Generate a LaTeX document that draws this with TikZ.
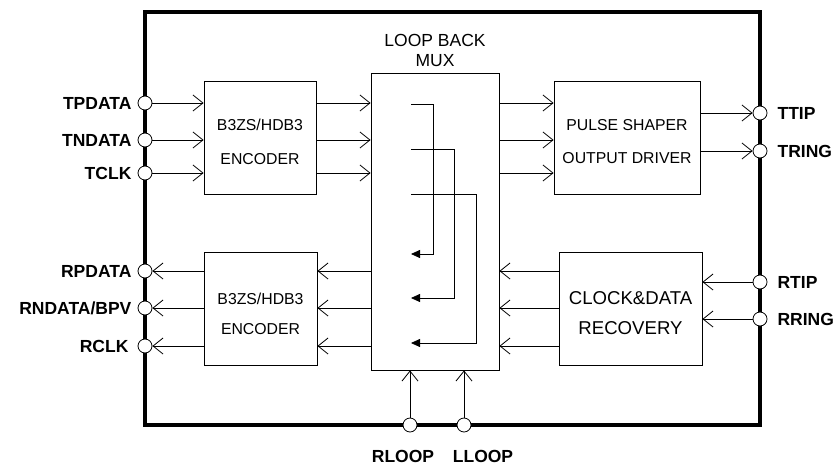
\documentclass[tikz,border=0pt]{standalone}
\usepackage{fontspec}
\setmainfont{Liberation Sans}
\usetikzlibrary{positioning,arrows.meta}

\begin{document}
\begin{tikzpicture}[x=1pt, y=-1pt,
  box/.style={draw, line width=0.8pt, align=center, inner sep=0pt, text depth=0pt},
  pin/.style={circle, draw, line width=0.8pt, fill=white, minimum size=14pt, inner sep=0pt},
  pinlbl/.style={font=\bfseries\fontsize{17.5}{20}\selectfont, inner sep=0pt},
  arr/.style={-{Straight Barb[length=10pt,width=16pt]}, line width=0.8pt},
  lpb/.style={-{Triangle[length=9pt,width=8pt]}, line width=0.8pt}
]
\useasboundingbox (0,0) rectangle (834,466);

% chip outline
\draw[line width=4pt] (145,12) rectangle (760,425);

% blocks
\node[box, minimum width=112pt, minimum height=113pt, font=\fontsize{15.8}{34}\selectfont, text height=54.5pt] (tenc) at (260,137.5) {B3ZS/HDB3\\ENCODER};
\node[box, minimum width=113pt, minimum height=113pt, font=\fontsize{15.8}{30}\selectfont, text height=52.3pt] (renc) at (260.5,308.5) {B3ZS/HDB3\\ENCODER};
\node[box, minimum width=128pt, minimum height=297pt] (mux) at (435,221.5) {};
\node[font=\fontsize{17.5}{20}\selectfont, align=center, inner sep=0pt, above=6pt of mux] (muxlbl) {LOOP BACK\\MUX};
\node[box, minimum width=146pt, minimum height=113pt, font=\fontsize{15.8}{33}\selectfont, text height=52.3pt] (pulse) at (627,137.5) {PULSE SHAPER\\OUTPUT DRIVER};
\node[box, minimum width=143pt, minimum height=113pt, font=\fontsize{18.6}{30}\selectfont, text height=52.3pt] (cdr) at (630.5,308.5) {CLOCK\&DATA\\RECOVERY};

% pins
\node[pin] (tp) at (145,103) {};
\node[pin] (tn) at (145,140) {};
\node[pin] (tc) at (145,173) {};
\node[pin] (rp) at (145,271) {};
\node[pin] (rn) at (145,308) {};
\node[pin] (rc) at (145,346) {};
\node[pin] (tt) at (760,113) {};
\node[pin] (tr) at (760,151) {};
\node[pin] (rt) at (760,282) {};
\node[pin] (rr) at (760,319) {};
\node[pin] (rl) at (410,425) {};
\node[pin] (ll) at (464,425) {};

\node[pinlbl, left=6pt of tp] (tplbl) {TPDATA};
\node[pinlbl, left=6pt of tn] (tnlbl) {TNDATA};
\node[pinlbl, left=6pt of tc] (tclbl) {TCLK};
\node[pinlbl, left=6pt of rp] (rplbl) {RPDATA};
\node[pinlbl, left=6pt of rn] (rnlbl) {RNDATA/BPV};
\node[pinlbl, left=9pt of rc] (rclbl) {RCLK};
\node[pinlbl, right=10pt of tt] (ttlbl) {TTIP};
\node[pinlbl, right=10pt of tr] (trlbl) {TRING};
\node[pinlbl, right=10pt of rt] (rtlbl) {RTIP};
\node[pinlbl, right=10pt of rr] (rrlbl) {RRING};
\node[pinlbl, below=18pt of rl, xshift=-7pt] (rllbl) {RLOOP};
\node[pinlbl, below=18pt of ll, xshift=19pt] (lllbl) {LLOOP};

% transmit side
\foreach \p in {tp,tn,tc} {
  \draw[arr] (\p) -- (tenc.west |- \p);
  \draw[arr] (tenc.east |- \p) -- (mux.west |- \p);
}
\draw[arr] (mux.east |- tp) -- (pulse.west |- tp);
\draw[arr] (mux.east |- tn) -- (pulse.west |- tn);
\draw[arr] (mux.east |- tc) -- (pulse.west |- tc);
\draw[arr] (pulse.east |- tt) -- (tt);
\draw[arr] (pulse.east |- tr) -- (tr);

% receive side
\foreach \p in {rp,rn,rc} {
  \draw[arr] (renc.west |- \p) -- (\p);
  \draw[arr] (mux.west |- \p) -- (renc.east |- \p);
}
\draw[arr] (cdr.west |- rp) -- (mux.east |- rp);
\draw[arr] (cdr.west |- rn) -- (mux.east |- rn);
\draw[arr] (cdr.west |- rc) -- (mux.east |- rc);
\draw[arr] (rt) -- (cdr.east |- rt);
\draw[arr] (rr) -- (cdr.east |- rr);

% loop control
\draw[arr] (rl) -- (rl |- mux.south);
\draw[arr] (ll) -- (ll |- mux.south);

% loop paths inside the mux
\foreach \ya/\xb/\yb in {104/433/254, 149/454/298, 194/476/343}
  \draw[lpb] (411,\ya) -| (\xb,\yb) -- (411,\yb);
\end{tikzpicture}
\end{document}
